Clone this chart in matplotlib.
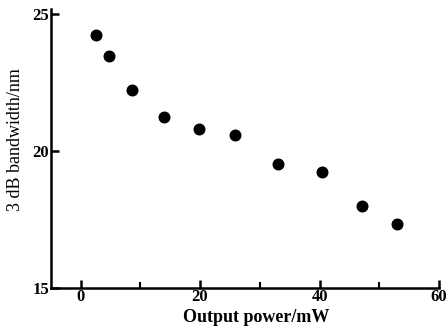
import matplotlib
matplotlib.use("Agg")
import matplotlib.pyplot as plt
from matplotlib.ticker import MultipleLocator

power_mw = [2.65, 4.7, 8.7, 14.0, 19.8, 25.8, 33.0, 40.4, 47.1, 53.0]
bandwidth_nm = [24.24, 23.46, 22.22, 21.23, 20.81, 20.58, 19.52, 19.25, 18.01, 17.32]
x_ticks = [0, 20, 40, 60]
y_ticks = [15, 20, 25]

W, H = 446, 332
fig = plt.figure(figsize=(W / 100, H / 100), dpi=100)
plt.rcParams['font.family'] = ['Liberation Serif', 'DejaVu Serif']

xmin, xmax = -5, 60
ymin, ymax = 15, 25.2
x0_px, x60_px = 80.5, 439
ppx = (x60_px - x0_px) / 60
left_px = x0_px + xmin * ppx
right_px = x0_px + xmax * ppx
y25_px, y15_px = 14, 288
ppy = (y15_px - y25_px) / 10
top_px = y25_px - (ymax - 25) * ppy
ax_w = right_px - left_px
ax_h = y15_px - top_px
ax = fig.add_axes([left_px / W, 1 - y15_px / H, ax_w / W, ax_h / H])

ax.scatter(power_mw, bandwidth_nm, s=58, color='black', zorder=3)
ax.set_xlim(xmin, xmax)
ax.set_ylim(ymin, ymax)
ax.set_xticks(x_ticks)
ax.set_yticks(y_ticks)
ax.xaxis.set_minor_locator(MultipleLocator(10))
for s in ['top', 'right']:
    ax.spines[s].set_visible(False)
for s in ['left', 'bottom']:
    ax.spines[s].set_linewidth(1.8)
ax.tick_params(axis='both', which='major', direction='in', length=6, width=1.8,
               labelsize=12, pad=1)
ax.tick_params(axis='x', which='minor', direction='in', length=4, width=1.5)
ax.tick_params(axis='y', which='major', pad=1)
for lab in ax.get_xticklabels() + ax.get_yticklabels():
    lab.set_fontweight('bold')
ax.set_xlabel('Output power/mW', fontsize=13, fontweight='bold')
ax.xaxis.set_label_coords((256 - left_px) / ax_w, (y15_px - 318) / ax_h)
ax.set_ylabel('3 dB bandwidth/nm', fontsize=13)
ax.yaxis.set_label_coords((16 - left_px) / ax_w, (y15_px - 140) / ax_h)
ax.xaxis.label.set_va('center')
ax.yaxis.label.set_va('center')

fig.savefig('out.png', dpi=100)
